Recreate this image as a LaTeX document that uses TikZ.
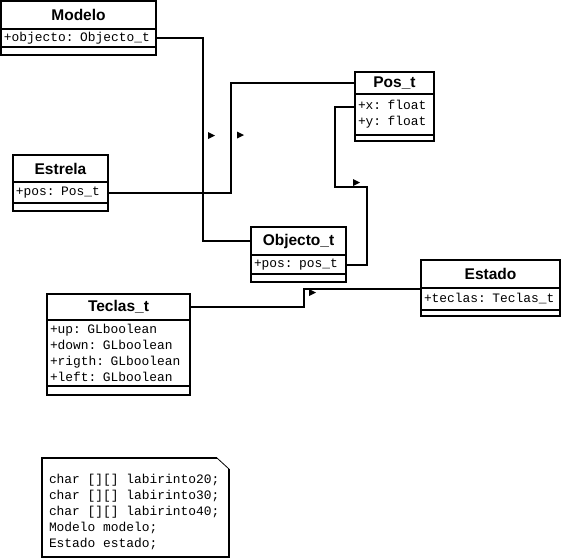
\documentclass[tikz,border=0pt]{standalone}
\usepackage{fontspec}
\setmainfont{Liberation Sans}
\newfontfamily\monof{Liberation Mono}
\begin{document}
\begin{tikzpicture}[x=1pt,y=-1pt]
\tikzset{
  bx/.style={draw, line width=2pt, fill=white, inner sep=0pt, outer sep=0pt, anchor=north west},
  ttl/.style={bx, font=\bfseries\fontsize{15.5}{18}\selectfont},
  attr/.style={bx, inner xsep=3pt, align=left, font=\monof\fontsize{12.9}{16}\selectfont},
  conn/.style={line width=2pt},
  nav/.style={fill=black},
  notetext/.style={inner sep=0pt, outer sep=0pt, anchor=north west, align=left, font=\monof\fontsize{12.9}{16}\selectfont}
}
\fill[white] (0,0) rectangle (564,558);
\useasboundingbox (0,0) rectangle (564,558);

% Modelo
\node[ttl, minimum width=155pt, minimum height=28pt] (modT) at (1,1) {Modelo};
\node[attr, text width=149pt, minimum width=155pt, minimum height=18pt] (modA) at (1,29) {+objecto: Objecto\_t};
\node[bx, minimum width=155pt, minimum height=8pt] (modF) at (1,47) {};

% Pos_t
\node[ttl, minimum width=79pt, minimum height=22pt] (posT) at (355,72) {Pos\_t};
\node[attr, text width=73pt, minimum width=79pt, minimum height=41pt] (posA) at (355,94) {+x: float\\+y: float};
\node[bx, minimum width=79pt, minimum height=6pt] (posF) at (355,135) {};

% Estrela
\node[ttl, minimum width=95pt, minimum height=27pt] (estT) at (13,155) {Estrela};
\node[attr, text width=89pt, minimum width=95pt, minimum height=21pt] (estA) at (13,182) {+pos: Pos\_t};
\node[bx, minimum width=95pt, minimum height=8pt] (estF) at (13,203) {};

% Objecto_t
\node[ttl, minimum width=95pt, minimum height=28pt] (objT) at (251,227) {Objecto\_t};
\node[attr, text width=89pt, minimum width=95pt, minimum height=19pt] (objA) at (251,255) {+pos: pos\_t};
\node[bx, minimum width=95pt, minimum height=8pt] (objF) at (251,274) {};

% Teclas_t
\node[ttl, minimum width=143pt, minimum height=26pt] (tecT) at (47,294) {Teclas\_t};
\node[attr, text width=137pt, minimum width=143pt, minimum height=66pt] (tecA) at (47,320) {+up: GLboolean\\+down: GLboolean\\+rigth: GLboolean\\+left: GLboolean};
\node[bx, minimum width=143pt, minimum height=9pt] (tecF) at (47,386) {};

% Estado
\node[ttl, minimum width=139pt, minimum height=28pt] (staT) at (421,260) {Estado};
\node[attr, text width=133pt, minimum width=139pt, minimum height=22pt] (staA) at (421,288) {+teclas: Teclas\_t};
\node[bx, minimum width=139pt, minimum height=6pt] (staF) at (421,310) {};

% connectors
\coordinate (k1) at (203,0);
\draw[conn] (modA.east) -| (k1 |- objT.west) -- (objT.west);
\coordinate (k2) at (231,0);
\draw[conn] (estA.east) -| (k2 |- posT.west) -- (posT.west);
\coordinate (k3) at (367,187);
\coordinate (k4) at (335,187);
\coordinate (k5) at (355,107);
\draw[conn] (objA.east) -| (k3) -- (k4) |- (k5);
\coordinate (k6) at (304,0);
\coordinate (k7) at (421,289);
\draw[conn] (tecT.east) -| (k6 |- k7) -- (k7);

% navigability arrowheads
\fill[nav] (208,132) -- (215,135.5) -- (208,139) -- cycle;
\fill[nav] (237,131.5) -- (244,135) -- (237,138.5) -- cycle;
\fill[nav] (353,179) -- (360,182.5) -- (353,186) -- cycle;
\fill[nav] (309,289) -- (316,292.5) -- (309,296) -- cycle;

% note
\node[notetext] (note) at (49,474) {char [][] labirinto20;\\char [][] labirinto30;\\char [][] labirinto40;\\Modelo modelo;\\Estado estado;};
\coordinate (n1) at (42,458);
\coordinate (n2) at (217,458);
\coordinate (n3) at (229,469);
\coordinate (n4) at (229,557);
\coordinate (n5) at (42,557);
\draw[line width=2pt] (n2) -- (n1) -- (n5) -- (n4) -- (n3);
\draw[line width=0.8pt] (n2) -- (n3);
\end{tikzpicture}
\end{document}
